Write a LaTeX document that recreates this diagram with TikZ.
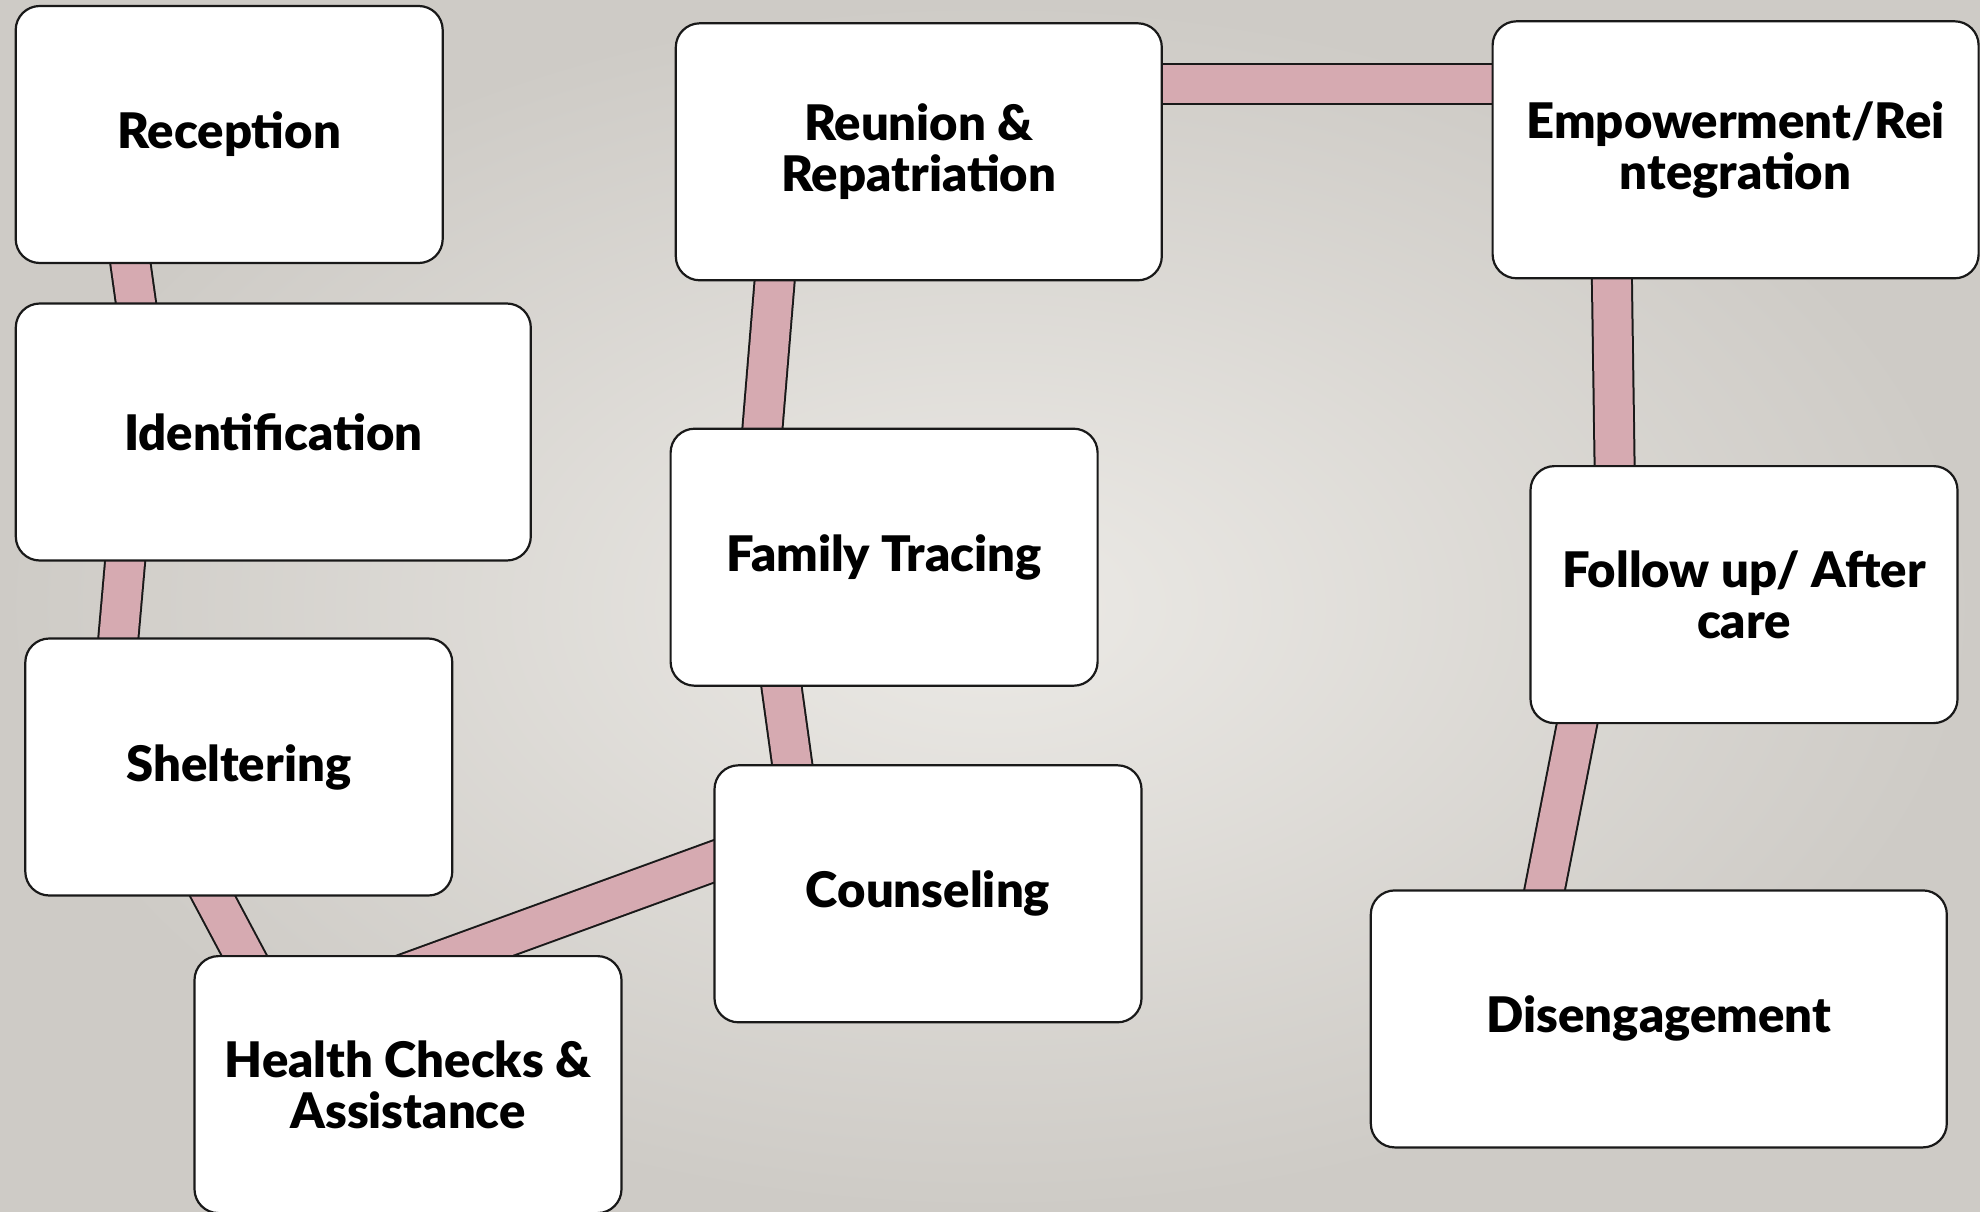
\documentclass[tikz,border=0pt]{standalone}
\usepackage{fontspec}
\setmainfont{Lato}[BoldFont=* Black]
\usetikzlibrary{backgrounds}
\definecolor{bgin}{RGB}{236,234,230}
\definecolor{bgout}{RGB}{206,203,198}
\definecolor{linkpink}{RGB}{214,170,177}
\tikzset{stage/.style={draw=black!90, fill=white, line width=2.2pt, rounded corners=24pt,
           minimum width=427pt, minimum height=257pt, inner sep=0pt, align=center,
           font=\fontsize{49}{51}\selectfont\bfseries},
         wide/.style={minimum width=486pt},
         link/.style={line width=2pt, draw=black!90, double=linkpink, double distance=38pt,
           shorten <=-70pt, shorten >=-70pt},
         }

\begin{document}
\begin{tikzpicture}[x=1pt, y=-1pt]
\useasboundingbox (0,0) rectangle (1980,1212);
\node[stage] (rec) at (229.2,134.5) {Reception};
\node[stage, minimum width=515pt] (ident) at (273.3,432) {Identification};
\node[stage] (shelt) at (238.8,767) {Sheltering};
\node[stage] (health) at (408,1084.6) {Health Checks \&\\Assistance};
\node[stage] (couns) at (928,893.8) {Counseling};
\node[stage] (trace) at (884.1,557.2) {Family Tracing};
\node[stage, wide] (reun) at (918.8,151.8) {Reunion \&\\Repatriation};
\node[stage, wide] (empow) at (1735.6,149.8) {Empowerment/Rei\\ntegration};
\node[stage] (follow) at (1744,594.6) {Follow up/ After\\care};
\node[stage, minimum width=576pt] (diseng) at (1658.8,1018.9) {Disengagement};
\begin{pgfonlayer}{background}
\shade[inner color=bgin, outer color=bgout] (0,0) rectangle (1980,1212);
\draw[link] ([xshift=115.9pt]rec.south west) -- ([xshift=121.2pt]ident.north west);
\draw[link] ([xshift=110.4pt]ident.south west) -- ([xshift=94.2pt]shelt.north west);
\draw[link] ([xshift=188.7pt]shelt.south west) -- ([xshift=50.6pt]health.north west);
\draw[link] ([xshift=263.3pt]health.north west) -- ([yshift=32.3pt]couns.west);
\draw[link] ([xshift=112pt]trace.south west) -- ([xshift=78.8pt]couns.north west);
\draw[link] ([xshift=93pt]trace.north west) -- ([xshift=99.9pt]reun.south west);
\draw[link] ([yshift=67.3pt]reun.east) -- ([yshift=65.3pt]empow.west);
\draw[link] ([xshift=120.4pt]empow.south west) -- ([xshift=85.2pt]follow.north west);
\draw[link] ([xshift=47.6pt]follow.south west) -- ([xshift=175pt]diseng.north west);
\end{pgfonlayer}
\end{tikzpicture}
\end{document}
